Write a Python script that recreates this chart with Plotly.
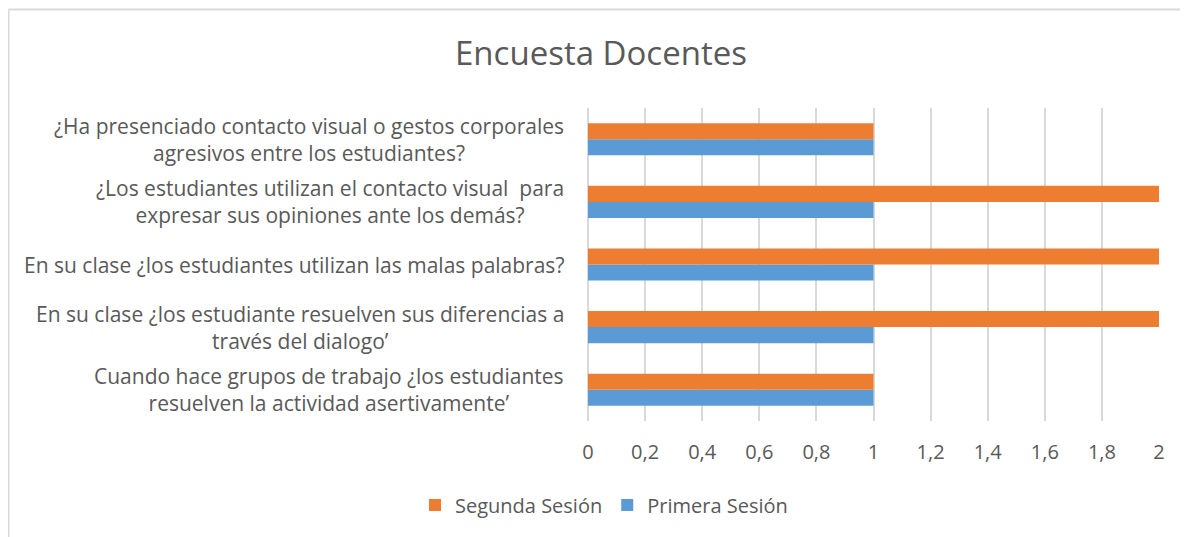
import plotly.graph_objects as go

categories = [
    "Cuando hace grupos de trabajo ¿los estudiantes<br>resuelven la actividad asertivamente’",
    "En su clase ¿los estudiante resuelven sus diferencias a<br>través del dialogo’",
    "En su clase ¿los estudiantes utilizan las malas palabras?",
    "¿Los estudiantes utilizan el contacto visual  para<br>expresar sus opiniones ante los demás?",
    "¿Ha presenciado contacto visual o gestos corporales<br>agresivos entre los estudiantes?",
]
primera = [1, 1, 1, 1, 1]
segunda = [1, 2, 2, 2, 1]
tick_vals = [0, 0.2, 0.4, 0.6, 0.8, 1, 1.2, 1.4, 1.6, 1.8, 2]

FONT = "Open Sans"
GRAY = "#595959"
OFF = 8  # page body margin
W, H = 1188 - OFF, 537 - OFF
L = 588 - OFF
R = W - (1159 - OFF)
T = 108 - OFF
B = H - (421 - OFF)
pw = W - L - R
ph = H - T - B

fig = go.Figure()
fig.add_trace(go.Bar(
    y=categories, x=primera, orientation="h", name="Primera Sesión",
    marker=dict(color="#5B9BD5", line=dict(width=0)),
))
fig.add_trace(go.Bar(
    y=categories, x=segunda, orientation="h", name="Segunda Sesión",
    marker=dict(color="#ED7D31", line=dict(width=0)),
))

annotations = []
for c in categories:
    annotations.append(dict(
        text=c, x=0, xref="paper", y=c, yref="y", xanchor="right", yanchor="middle",
        xshift=-22, align="center", showarrow=False,
        font=dict(family=FONT, size=21, color=GRAY),
    ))

# chart border (left/top)
x0 = (8.5 - OFF - L) / pw
y1 = 1 + (T - (9.5 - OFF)) / ph
shapes = [
    dict(type="line", xref="paper", yref="paper", x0=x0, x1=x0, y0=y1, y1=-1,
         line=dict(color="#D9D9D9", width=2)),
    dict(type="line", xref="paper", yref="paper", x0=x0, x1=2, y0=y1, y1=y1,
         line=dict(color="#D9D9D9", width=2)),
]

fig.update_layout(
    width=W, height=H,
    margin=dict(l=L, r=R, t=T, b=B, autoexpand=False),
    paper_bgcolor="white", plot_bgcolor="white",
    separators=",.",
    barmode="group", bargap=0.487, bargroupgap=0,
    title=dict(text="Encuesta Docentes", x=(601 - OFF) / W, xref="container", xanchor="center",
               y=1 - (53 - OFF) / H, yref="container", yanchor="middle",
               font=dict(family=FONT, size=33, color=GRAY)),
    xaxis=dict(range=[0, 2], tickvals=tick_vals, showgrid=True, gridcolor="#D9D9D9",
               gridwidth=1.5, zeroline=True, zerolinecolor="#D9D9D9", zerolinewidth=1.5,
               showline=False, ticks="", ticklabelstandoff=17,
               tickfont=dict(family=FONT, size=20, color=GRAY), fixedrange=True),
    yaxis=dict(showticklabels=False, showgrid=False, zeroline=False, showline=False,
               categoryorder="array", categoryarray=categories, fixedrange=True),
    showlegend=True,
    legend=dict(orientation="h", x=(604 - OFF - L) / pw, xanchor="center",
                y=(ph + T - (505 - OFF)) / ph, yanchor="middle", traceorder="reversed",
                font=dict(family=FONT, size=20, color=GRAY), itemwidth=30),
    annotations=annotations,
    shapes=shapes,
)

fig.write_html("out.html")
